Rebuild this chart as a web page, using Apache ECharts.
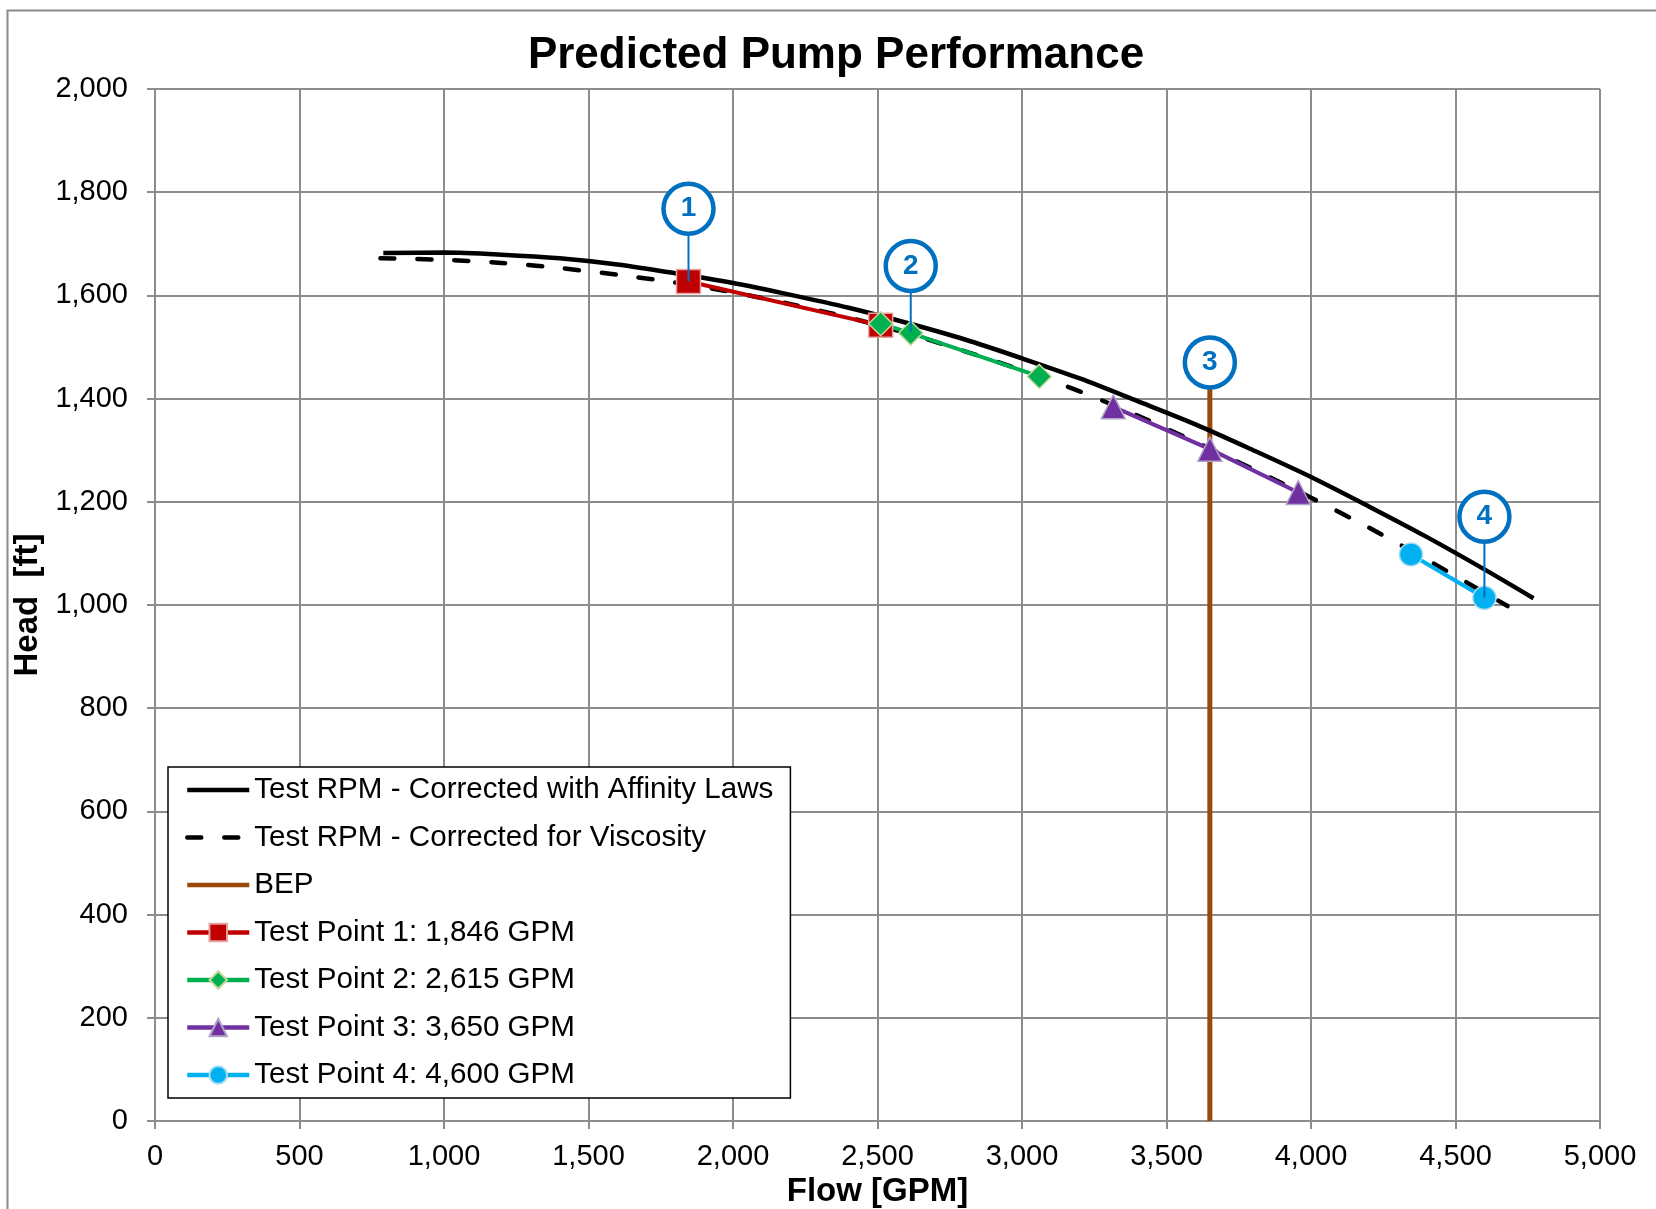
<!DOCTYPE html>
<html>
<head>
<meta charset="utf-8">
<script src="https://cdn.jsdelivr.net/npm/echarts@6/dist/echarts.min.js"></script>
<style>
html, body { margin:0; padding:0; background:#fff; }
#main { width:1656px; height:1209px; }
</style>
</head>
<body>
<div id="main"></div>
<script>
// pump curves
var affinityFlow = [790, 1000, 1200, 1400, 1600, 1800, 2000, 2200, 2400, 2600, 2800, 3000, 3200, 3400, 3600, 3800, 4000, 4200, 4400, 4600, 4770];
var affinityHead = [1682, 1683, 1679, 1672, 1660, 1643, 1624, 1601, 1576, 1547, 1515, 1478, 1439, 1395, 1350, 1300, 1248, 1191, 1132, 1069, 1013];
var viscosityFlow = [780, 1000, 1200, 1400, 1600, 1800, 2000, 2200, 2400, 2600, 2800, 3000, 3200, 3400, 3600, 3800, 4000, 4200, 4400, 4600, 4680];
var viscosityHead = [1672, 1669, 1663, 1653, 1640, 1625, 1606, 1583, 1557, 1527, 1492, 1455, 1414, 1367, 1316, 1263, 1208, 1150, 1088, 1024, 998];

var bepFlow = [3650, 3650];
var bepHead = [0, 1420];

var tp1Flow = [1846, 2511];
var tp1Head = [1627, 1542];
var tp2Flow = [2511, 2615, 3060];
var tp2Head = [1545, 1527, 1443];
var tp3Flow = [3316, 3650, 3956];
var tp3Head = [1384, 1302, 1218];
var tp4Flow = [4346, 4600];
var tp4Head = [1098, 1014];

// numbered callouts
var calloutLabels = ['1', '2', '3', '4'];
var calloutFlow = [1846, 2615, 3650, 4600];
var calloutHead = [1768, 1657, 1470, 1171];
var leaderFlow = [1846, 2615, 4600];
var leaderTop = [1768, 1657, 1171];
var leaderBottom = [1627, 1530, 1014];

var xTickLabels = ['0', '500', '1,000', '1,500', '2,000', '2,500', '3,000', '3,500', '4,000', '4,500', '5,000'];
var yTickLabels = ['0', '200', '400', '600', '800', '1,000', '1,200', '1,400', '1,600', '1,800', '2,000'];

var legendNames = ['Test RPM - Corrected with Affinity Laws', 'Test RPM - Corrected for Viscosity', 'BEP',
    'Test Point 1: 1,846 GPM', 'Test Point 2: 2,615 GPM', 'Test Point 3: 3,650 GPM', 'Test Point 4: 4,600 GPM'];

function zip(xs, ys) {
    var out = [];
    for (var i = 0; i < xs.length; i++) out.push([xs[i], ys[i]]);
    return out;
}

var fontFam = '"Liberation Sans", Arial, sans-serif';
var gridColor = '#8c8c8c';

function testSeries(name, xs, ys, color, symbol, border) {
    return {
        name: name,
        type: 'line',
        data: zip(xs, ys),
        symbol: symbol,
        symbolSize: symbol == 'circle' ? 23 : 24,
        lineStyle: { color: color, width: 4 },
        itemStyle: { color: color, borderColor: border, borderWidth: 1.5 },
        z: 3
    };
}

var series = [
    {
        name: 'BEP',
        type: 'line',
        data: zip(bepFlow, bepHead),
        symbol: 'none',
        lineStyle: { color: '#984807', width: 5 },
        itemStyle: { color: '#984807' },
        z: 2
    },
    {
        name: legendNames[0],
        type: 'line',
        data: zip(affinityFlow, affinityHead),
        symbol: 'none',
        smooth: 0.3,
        lineStyle: { color: '#000', width: 4.5 },
        itemStyle: { color: '#000' },
        z: 2
    },
    {
        name: legendNames[1],
        type: 'line',
        data: zip(viscosityFlow, viscosityHead),
        symbol: 'none',
        smooth: 0.3,
        lineStyle: { color: '#000', width: 4.5, type: [14, 23], cap: 'round' },
        itemStyle: { color: '#000' },
        z: 2
    },
    testSeries(legendNames[3], tp1Flow, tp1Head, '#C00000', 'rect', '#E8A3A3'),
    testSeries(legendNames[4], tp2Flow, tp2Head, '#00B050', 'diamond', '#C9D79B'),
    testSeries(legendNames[5], tp3Flow, tp3Head, '#7030A0', 'triangle', '#B3A2C7'),
    testSeries(legendNames[6], tp4Flow, tp4Head, '#00B0F0', 'circle', '#A6DCF2')
];

for (var i = 0; i < leaderFlow.length; i++) {
    series.push({
        name: 'leader' + i,
        type: 'line',
        data: [[leaderFlow[i], leaderTop[i]], [leaderFlow[i], leaderBottom[i]]],
        symbol: 'none',
        lineStyle: { color: '#0070C0', width: 2 },
        z: 5
    });
}

series.push({
    name: 'callouts',
    type: 'scatter',
    data: zip(calloutFlow, calloutHead),
    symbol: 'circle',
    symbolSize: 50,
    itemStyle: { color: '#fff', borderColor: '#0070C0', borderWidth: 4.5, opacity: 1 },
    label: {
        show: true,
        position: 'inside',
        color: '#0070C0',
        fontWeight: 'bold',
        fontSize: 28,
        fontFamily: fontFam,
        formatter: function (p) { return calloutLabels[p.dataIndex]; }
    },
    z: 6
});

// legend entries: plain lines get no marker in the key
var legendData = legendNames.map(function (n, idx) {
    if (idx < 3) return { name: n, itemStyle: { opacity: 0 } };
    return { name: n };
});

var option = {
    animation: false,
    backgroundColor: '#fff',
    title: {
        text: 'Predicted Pump Performance',
        left: 836,
        top: 34,
        padding: 0,
        textAlign: 'center',
        textStyle: { fontSize: 44, fontWeight: 'bold', color: '#000', fontFamily: fontFam }
    },
    grid: {
        left: 155,
        right: 56,
        top: 89,
        bottom: 88,
        containLabel: false,
        outerBoundsMode: 'none'
    },
    legend: {
        data: legendData,
        orient: 'vertical',
        left: 168,
        top: 767,
        padding: [8, 17, 8, 17],
        itemWidth: 62,
        itemHeight: 22,
        itemGap: 17.5,
        backgroundColor: '#fff',
        borderColor: '#000',
        borderWidth: 1.5,
        borderRadius: 0,
        lineStyle: { width: 4.5 },
        textStyle: { fontSize: 29.6, lineHeight: 30, color: '#000', fontFamily: fontFam }
    },
    xAxis: {
        type: 'value',
        min: 0,
        max: 5000,
        interval: 500,
        name: 'Flow [GPM]',
        nameLocation: 'middle',
        nameGap: 53,
        nameTextStyle: { fontSize: 33, fontWeight: 'bold', color: '#000', fontFamily: fontFam },
        axisLine: { show: true, lineStyle: { color: gridColor, width: 2 } },
        axisTick: { show: true, length: 8, lineStyle: { color: gridColor, width: 2 } },
        axisLabel: {
            margin: 21,
            fontSize: 29,
            color: '#000',
            fontFamily: fontFam,
            formatter: function (v) { return xTickLabels[Math.round(v / 500)]; }
        },
        splitLine: { show: true, lineStyle: { color: gridColor, width: 2 } }
    },
    yAxis: {
        type: 'value',
        min: 0,
        max: 2000,
        interval: 200,
        name: 'Head  [ft]',
        nameLocation: 'middle',
        nameRotate: 90,
        nameGap: 102,
        nameTextStyle: { fontSize: 33, fontWeight: 'bold', color: '#000', fontFamily: fontFam },
        axisLine: { show: true, lineStyle: { color: gridColor, width: 2 } },
        axisTick: { show: true, length: 8, lineStyle: { color: gridColor, width: 2 } },
        axisLabel: {
            margin: 27,
            fontSize: 29,
            color: '#000',
            fontFamily: fontFam,
            formatter: function (v) { return yTickLabels[Math.round(v / 200)]; }
        },
        splitLine: { show: true, lineStyle: { color: gridColor, width: 2 } }
    },
    graphic: [{
        type: 'rect',
        left: 5,
        top: 8,
        shape: { width: 1700, height: 1250 },
        style: { fill: 'none', stroke: gridColor, lineWidth: 2 },
        silent: true
    }],
    series: series
};

var chart = echarts.init(document.getElementById('main'));
chart.setOption(option);
</script>
</body>
</html>
